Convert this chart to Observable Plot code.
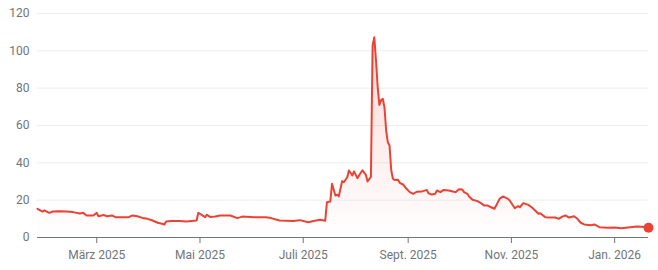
<!DOCTYPE html>
<html>
<head>
<meta charset="utf-8">
<script src="https://cdn.jsdelivr.net/npm/d3@7"></script>
<script src="https://cdn.jsdelivr.net/npm/@observablehq/plot@0.6"></script>
<style>
  html, body { margin: 0; padding: 0; background: #fff; }
  #chart svg { display: block; }
</style>
</head>
<body>
<div id="chart"></div>
<script>
const dates = [
  "2025-01-25","2025-01-28","2025-01-29","2025-02-01","2025-02-03","2025-02-07","2025-02-11","2025-02-15",
  "2025-02-19","2025-02-21","2025-02-23","2025-02-27","2025-03-01","2025-03-02","2025-03-05","2025-03-07",
  "2025-03-10","2025-03-12","2025-03-17","2025-03-20","2025-03-22","2025-03-25","2025-03-28","2025-03-31",
  "2025-04-03","2025-04-06","2025-04-08","2025-04-10","2025-04-11","2025-04-14","2025-04-19","2025-04-23",
  "2025-04-29","2025-04-30","2025-05-02","2025-05-04","2025-05-05","2025-05-07","2025-05-10","2025-05-13",
  "2025-05-19","2025-05-23","2025-05-26","2025-06-02","2025-06-09","2025-06-12","2025-06-17","2025-06-25",
  "2025-06-29","2025-07-04","2025-07-07","2025-07-11","2025-07-14","2025-07-15","2025-07-17","2025-07-18",
  "2025-07-20","2025-07-21","2025-07-22","2025-07-24","2025-07-25","2025-07-27","2025-07-28","2025-07-30",
  "2025-07-31","2025-08-02","2025-08-04","2025-08-05","2025-08-07","2025-08-08","2025-08-10","2025-08-11",
  "2025-08-12","2025-08-13","2025-08-14","2025-08-15","2025-08-16","2025-08-17","2025-08-18","2025-08-19",
  "2025-08-20","2025-08-21","2025-08-22","2025-08-23","2025-08-24","2025-08-26","2025-08-27","2025-08-29",
  "2025-08-31","2025-09-02","2025-09-04","2025-09-06","2025-09-09","2025-09-12","2025-09-13","2025-09-15",
  "2025-09-17","2025-09-18","2025-09-20","2025-09-22","2025-09-25","2025-09-28","2025-09-29","2025-10-01",
  "2025-10-03","2025-10-04","2025-10-06","2025-10-07","2025-10-09","2025-10-12","2025-10-14","2025-10-16",
  "2025-10-18","2025-10-20","2025-10-22","2025-10-23","2025-10-25","2025-10-27","2025-10-30","2025-10-31",
  "2025-11-03","2025-11-05","2025-11-06","2025-11-08","2025-11-11","2025-11-13","2025-11-15","2025-11-17",
  "2025-11-18","2025-11-21","2025-11-24","2025-11-27","2025-11-29","2025-12-01","2025-12-03","2025-12-05",
  "2025-12-08","2025-12-10","2025-12-12","2025-12-14","2025-12-18","2025-12-20","2025-12-23","2025-12-28",
  "2026-01-01","2026-01-05","2026-01-09","2026-01-14","2026-01-17","2026-01-21"
];
const values = [
  15.4,13.9,14.5,13.2,13.9,14.1,13.9,13.6,
  12.9,13.2,11.8,11.8,13.2,11.4,12.1,11.4,
  11.8,10.9,10.9,10.9,11.8,11.4,10.5,10.0,
  9.1,7.9,7.5,7.0,8.6,8.9,8.8,8.6,
  9.1,13.2,12.1,10.9,12.1,11.0,11.2,11.8,
  11.8,10.4,11.2,10.9,10.9,10.4,9.1,8.8,
  9.3,8.2,8.8,9.5,9.0,18.9,19.3,28.8,
  22.5,23.0,22.0,30.2,29.6,32.3,35.9,33.2,
  35.4,31.8,34.7,36.0,33.6,30.0,32.5,102.8,
  107.3,94.8,80.5,71.0,73.5,74.3,69.8,57.3,
  51.0,49.3,36.0,31.5,30.8,30.9,29.3,28.4,
  26.1,24.3,23.4,24.5,24.6,25.5,23.7,23.0,
  23.4,25.2,24.3,25.5,25.2,24.5,24.3,25.9,
  25.7,24.3,23.4,22.0,20.2,19.5,18.4,17.1,
  17.1,16.2,15.4,17.1,20.7,22.0,20.7,19.8,
  15.7,16.8,16.2,18.4,17.5,16.2,14.5,12.7,
  13.0,10.9,10.7,10.7,10.0,11.2,11.8,10.7,
  11.4,10.0,7.9,7.0,6.6,7.0,5.5,5.2,
  5.4,5.0,5.4,5.9,5.7,5.2
];
const yTicks = [0, 20, 40, 60, 80, 100, 120];
const xTickDates = ["2025-03-01","2025-05-01","2025-07-01","2025-09-01","2025-11-01","2026-01-01"];
const xTickLabels = ["März 2025","Mai 2025","Juli 2025","Sept. 2025","Nov. 2025","Jan. 2026"];

const data = dates.map((d, i) => ({date: new Date(d + "T00:00:00Z"), value: values[i]}));
const tickDates = xTickDates.map(d => new Date(d + "T00:00:00Z"));
const red = "#ea4335";

const chart = Plot.plot({
  width: 658,
  height: 270,
  marginLeft: 37,
  marginRight: 10,
  marginTop: 13,
  marginBottom: 33,
  style: {fontFamily: "Roboto, sans-serif", fontSize: "12px", color: "#70757a", background: "#fff", overflow: "visible"},
  x: {type: "utc", domain: [data[0].date, data[data.length - 1].date]},
  y: {domain: [0, 120]},
  marks: [
    Plot.gridY(yTicks.filter(v => v > 0), {stroke: "#eeeeee", strokeOpacity: 1}),
    Plot.areaY(data, {x: "date", y: "value", fill: "url(#redfade)"}),
    Plot.ruleY([0], {stroke: "#70757a", strokeWidth: 1}),
    Plot.lineY(data, {x: "date", y: "value", stroke: red, strokeWidth: 2, strokeLinejoin: "round"}),
    Plot.dot([data[data.length - 1]], {x: "date", y: "value", r: 5, fill: red, stroke: null}),
    Plot.axisY(yTicks, {tickSize: 0, tickPadding: 8, label: null, fill: "#70757a"}),
    Plot.axisX(tickDates, {
      tickSize: 6, tickPadding: 7, label: null, stroke: "#70757a", fill: "#70757a",
      tickFormat: d => xTickLabels[tickDates.findIndex(t => +t === +d)]
    })
  ]
});

const ns = "http://www.w3.org/2000/svg";
const defs = document.createElementNS(ns, "defs");
defs.innerHTML = '<linearGradient id="redfade" x1="0" y1="0" x2="0" y2="1">' +
  '<stop offset="0" stop-color="' + red + '" stop-opacity="0.2"/>' +
  '<stop offset="1" stop-color="' + red + '" stop-opacity="0"/></linearGradient>';
chart.insertBefore(defs, chart.firstChild);
document.getElementById("chart").appendChild(chart);
</script>
</body>
</html>
